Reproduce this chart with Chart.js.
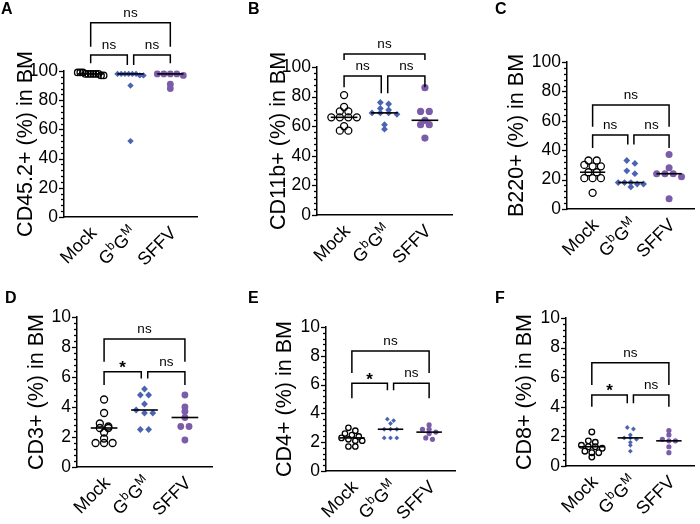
<!DOCTYPE html>
<html>
<head>
<meta charset="utf-8">
<script src="https://cdn.jsdelivr.net/npm/chart.js@4.4.1/dist/chart.umd.min.js"></script>
<style>
  html, body { margin: 0; padding: 0; background: #fff; overflow: hidden; }
  #fig { position: relative; width: 700px; height: 524px; }
  .panel { position: absolute; }
</style>
</head>
<body>
<div id="fig"></div>
<script>
// ---- data ----
const groups = ['Mock', 'GᵇGᴹ', 'SFFV'];
const pctTicks = [0, 20, 40, 60, 80, 100];
const lowTicks = [0, 2, 4, 6, 8, 10];

const cd45Mock = [99, 99, 98, 98, 98, 98, 98, 97, 97, 98, 99];
const cd45Gbgm = [98, 98, 98, 97, 98, 98, 97, 98, 90, 52];
const cd45Sffv = [98, 98, 97, 98, 98, 91, 88];

const cd11bMock = [81, 73, 70, 70, 66, 66, 66, 66, 60, 57, 57];
const cd11bGbgm = [76, 75, 72, 71, 69, 69, 69, 68, 61, 58];
const cd11bSffv = [86, 70, 70, 64, 61, 61, 52];

const b220Mock = [33, 33, 30, 29, 29, 25, 25, 21, 21, 21, 11];
const b220Gbgm = [33, 31, 26, 24, 18, 18, 18, 17, 17, 15];
const b220Sffv = [37, 28, 24, 24, 24, 22, 7];

const cd3Mock = [4.5, 3.6, 2.9, 2.7, 2.6, 2.6, 2.3, 1.9, 1.6, 1.6, 1.6];
const cd3Gbgm = [5.2, 4.8, 4.8, 4.2, 3.6, 3.6, 3.8, 2.5, 2.5];
const cd3Sffv = [4.8, 4.0, 3.7, 3.3, 2.7, 2.7, 1.8];

const cd4Mock = [3.0, 2.8, 2.6, 2.5, 2.4, 2.3, 2.2, 2.1, 2.1, 1.7, 1.7];
const cd4Gbgm = [3.6, 3.5, 3.3, 2.9, 2.9, 2.9, 2.3, 2.3, 2.3];
const cd4Sffv = [3.2, 2.9, 2.9, 2.7, 2.6, 2.3, 2.2];

const cd8Mock = [2.3, 1.7, 1.6, 1.4, 1.3, 1.3, 1.2, 1.0, 0.9, 0.9, 0.6];
const cd8Gbgm = [2.6, 2.5, 2.1, 1.9, 1.9, 1.8, 1.6, 1.4, 1.0];
const cd8Sffv = [2.4, 2.1, 1.8, 1.7, 1.7, 1.3, 0.9];

// significance: [Mock vs GbGM, GbGM vs SFFV, Mock vs SFFV]
const sigAllNs = ['ns', 'ns', 'ns'];
const sigStar = ['*', 'ns', 'ns'];

// ---- layout (page px) ----
const FONT = '"Liberation Sans", Arial, "DejaVu Sans", sans-serif';
const xMin = 0.33, xMax = 3.67;
const pointStyles = ['circle', 'rectRot', 'circle'];
const fills = ['rgba(0,0,0,0)', '#4a63b2', '#7b5ca8'];
const strokes = ['#000', '#4a63b2', '#7b5ca8'];
const strokeW = [1.3, 0, 0];
const superChars = { 'ᵇ': 'b', 'ᴹ': 'M' };

// brackets: [lowTop, lowOuterEnd, lowInnerEnd, highTop, highEnd] in data units
const panels = [
  { letter: 'A', title: 'CD45.2+ (%) in BM', ticks: pctTicks, sig: sigAllNs,
    values: [cd45Mock, cd45Gbgm, cd45Sffv],
    box: [0, 0, 233, 300], area: [64, 197, 71, 217], titleX: 26, lx: 1, ly: 14,
    r: [3.2, 3.2, 3.4], brackets: [111, 105.3, 104.1, 133, 116.6] },
  { letter: 'B', title: 'CD11b+ (%) in BM', ticks: pctTicks, sig: sigAllNs,
    values: [cd11bMock, cd11bGbgm, cd11bSffv],
    box: [233, 0, 233, 300], area: [317, 452, 67, 215], titleX: 279, lx: 248, ly: 14,
    r: [3.5, 3.4, 3.6], brackets: [93.9, 86.3, 82.2, 108.8, 104.7] },
  { letter: 'C', title: 'B220+ (%) in BM', ticks: pctTicks, sig: sigAllNs,
    values: [b220Mock, b220Gbgm, b220Sffv],
    box: [466, 0, 234, 300], area: [567, 698, 62, 209], titleX: 517, lx: 495, ly: 14,
    r: [3.5, 3.4, 3.5], brackets: [50.3, 41.5, 43.8, 70.7, 56] },
  { letter: 'D', title: 'CD3+ (%) in BM', ticks: lowTicks, sig: sigStar,
    values: [cd3Mock, cd3Gbgm, cd3Sffv],
    box: [0, 262, 233, 262], area: [77, 212, 317, 467], titleX: 37, lx: 5, ly: 303,
    r: [3.5, 3.4, 3.4], brackets: [6.35, 5.47, 5.9, 8.53, 7.02] },
  { letter: 'E', title: 'CD4+ (%) in BM', ticks: lowTicks, sig: sigStar,
    values: [cd4Mock, cd4Gbgm, cd4Sffv],
    box: [233, 262, 233, 262], area: [326, 455, 327, 471], titleX: 285, lx: 248, ly: 303,
    r: [2.7, 2.4, 2.6], brackets: [6.09, 5.05, 5.6, 8.33, 6.8] },
  { letter: 'F', title: 'CD8+ (%) in BM', ticks: lowTicks, sig: sigStar,
    values: [cd8Mock, cd8Gbgm, cd8Sffv],
    box: [466, 262, 234, 262], area: [566, 698, 318, 466], titleX: 525, lx: 495, ly: 303,
    r: [2.8, 2.4, 2.6], brackets: [4.8, 4.0, 4.24, 6.98, 5.47] }
];

function median(arr) {
  const s = [...arr].sort((a, b) => a - b);
  const m = Math.floor(s.length / 2);
  return s.length % 2 ? s[m] : (s[m - 1] + s[m]) / 2;
}

// simple row-based swarm: points close in value share a row and are spread sideways (px)
function swarm(vals, pxY, r) {
  const order = vals.map((v, i) => i).sort((a, b) => vals[b] - vals[a]);
  const rows = [];
  order.forEach(i => {
    const row = rows[rows.length - 1];
    if (row && (vals[row[0]] - vals[i]) * pxY < r * 1.2) row.push(i);
    else rows.push([i]);
  });
  const off = new Array(vals.length).fill(0);
  const maxHalf = 13;
  rows.forEach(row => {
    const n = row.length;
    if (n < 2) return;
    const sp = Math.min(2 * r + 1.5, 2 * maxHalf / (n - 1));
    row.forEach((i, k) => { off[i] = (k - (n - 1) / 2) * sp; });
  });
  return off;
}

// right-aligned label at (0,0), modifier letters drawn as raised small letters
function drawLabel(ctx, text, size) {
  const parts = [...text].map(ch => superChars[ch]
    ? { t: superChars[ch], s: size * 0.68, dy: -size * 0.38 }
    : { t: ch, s: size, dy: 0 });
  let w = 0;
  parts.forEach(pt => { ctx.font = pt.s + 'px ' + FONT; pt.w = ctx.measureText(pt.t).width; w += pt.w; });
  let x = -w;
  ctx.textAlign = 'left';
  parts.forEach(pt => {
    ctx.font = pt.s + 'px ' + FONT;
    ctx.fillText(pt.t, x, pt.dy);
    x += pt.w;
  });
}

const figurePlugin = {
  id: 'figure',
  afterDraw(chart, args, opts) {
    const p = opts.panel;
    const ctx = chart.ctx;
    const xs = chart.scales.x, ys = chart.scales.y;
    const { left, bottom } = chart.chartArea;
    ctx.save();

    // y tick marks, major and minor
    ctx.strokeStyle = '#000';
    ctx.lineWidth = 1.3;
    const step = p.ticks[1] - p.ticks[0];
    for (let i = 0; i < p.ticks.length; i++) {
      for (let k = 0; k < 5; k++) {
        if (i === p.ticks.length - 1 && k > 0) break;
        const py = Math.round(ys.getPixelForValue(p.ticks[i] + k * step / 5)) + 0.5;
        const len = k === 0 ? 5 : 3;
        ctx.beginPath();
        ctx.moveTo(left - len, py);
        ctx.lineTo(left, py);
        ctx.stroke();
      }
    }

    // rotated category labels
    ctx.fillStyle = '#000';
    ctx.textBaseline = 'alphabetic';
    xs.ticks.forEach(t => {
      const px = xs.getPixelForValue(t.value);
      ctx.save();
      ctx.translate(px + 7, bottom + 17);
      ctx.rotate(-Math.PI / 4);
      drawLabel(ctx, groups[t.value - 1], 18);
      ctx.restore();
    });

    // significance brackets
    const [lowTop, lowOuter, lowInner, highTop, highEnd] = p.brackets;
    const gap = 0.08;
    const bracket = (a, b, top, endA, endB, label) => {
      const xa = xs.getPixelForValue(a), xb = xs.getPixelForValue(b);
      const yt = ys.getPixelForValue(top);
      ctx.lineWidth = 1.5;
      ctx.lineJoin = 'miter';
      ctx.beginPath();
      ctx.moveTo(xa, ys.getPixelForValue(endA));
      ctx.lineTo(xa, yt);
      ctx.lineTo(xb, yt);
      ctx.lineTo(xb, ys.getPixelForValue(endB));
      ctx.stroke();
      ctx.textAlign = 'center';
      ctx.textBaseline = 'alphabetic';
      if (label === '*') {
        ctx.font = 'bold 17px ' + FONT;
        ctx.fillText(label, (xa + xb) / 2, yt + 1.5);
      } else {
        ctx.font = '13.5px ' + FONT;
        ctx.fillText(label, (xa + xb) / 2, yt - 6);
      }
    };
    bracket(1, 2 - gap, lowTop, lowOuter, lowInner, p.sig[0]);
    bracket(2 + gap, 3, lowTop, lowInner, lowOuter, p.sig[1]);
    bracket(1, 3, highTop, highEnd, highEnd, p.sig[2]);

    // panel letter
    ctx.font = 'bold 16px ' + FONT;
    ctx.textAlign = 'left';
    ctx.fillText(p.letter, p.lx - p.box[0], p.ly - p.box[1]);
    ctx.restore();
  }
};

const fig = document.getElementById('fig');

panels.forEach(p => {
  const [bl, bt, bw, bh] = p.box;
  const [x0, x1, yTop, yBot] = p.area;
  const yMax = p.ticks[p.ticks.length - 1];
  const pxX = (x1 - x0) / (xMax - xMin);
  const pxY = (yBot - yTop) / yMax;

  const div = document.createElement('div');
  div.className = 'panel';
  div.style.left = bl + 'px';
  div.style.top = bt + 'px';
  div.style.width = bw + 'px';
  div.style.height = bh + 'px';
  const canvas = document.createElement('canvas');
  canvas.width = bw;
  canvas.height = bh;
  canvas.style.width = bw + 'px';
  canvas.style.height = bh + 'px';
  div.appendChild(canvas);
  fig.appendChild(div);

  const datasets = [];
  p.values.forEach((vals, g) => {
    const m = median(vals);
    datasets.push({
      data: [{ x: g + 1 - 0.33, y: m }, { x: g + 1 + 0.33, y: m }],
      showLine: true, borderColor: '#000', borderWidth: 1.6,
      pointRadius: 0, clip: false, order: 0
    });
  });
  p.values.forEach((vals, g) => {
    const off = swarm(vals, pxY, p.r[g]);
    datasets.push({
      data: vals.map((v, i) => ({ x: g + 1 + off[i] / pxX, y: v })),
      pointStyle: pointStyles[g],
      pointRadius: p.r[g],
      pointBackgroundColor: fills[g],
      pointBorderColor: strokes[g],
      pointBorderWidth: strokeW[g],
      clip: false, order: 1
    });
  });

  const titleSize = 21.5;
  const titleLine = titleSize * 1.2;

  new Chart(canvas, {
    type: 'scatter',
    data: { datasets },
    options: {
      responsive: false,
      animation: false,
      events: [],
      layout: { padding: { left: 0, top: yTop - bt, right: bl + bw - x1, bottom: 0 } },
      plugins: { legend: { display: false }, tooltip: { enabled: false }, figure: { panel: p } },
      scales: {
        x: {
          type: 'linear', min: xMin, max: xMax,
          afterBuildTicks: s => { s.ticks = [1, 2, 3].map(v => ({ value: v })); },
          afterFit: s => { s.height = bt + bh - yBot; s.paddingLeft = 0; s.paddingRight = 0; },
          ticks: { display: false },
          grid: { display: false, drawTicks: false },
          border: { color: '#000', width: 1.5 }
        },
        y: {
          type: 'linear', min: 0, max: yMax,
          afterBuildTicks: s => { s.ticks = p.ticks.map(v => ({ value: v })); },
          afterFit: s => { s.width = x0 - bl; },
          ticks: { padding: 6, color: '#000', font: { family: FONT, size: 17.5 } },
          grid: { display: false, drawTicks: false },
          border: { color: '#000', width: 1.5 },
          title: {
            display: true, text: p.title, color: '#000',
            font: { family: FONT, size: titleSize },
            padding: { top: p.titleX - bl - titleLine / 2, bottom: 0 }
          }
        }
      }
    },
    plugins: [figurePlugin]
  });
});
</script>
</body>
</html>
